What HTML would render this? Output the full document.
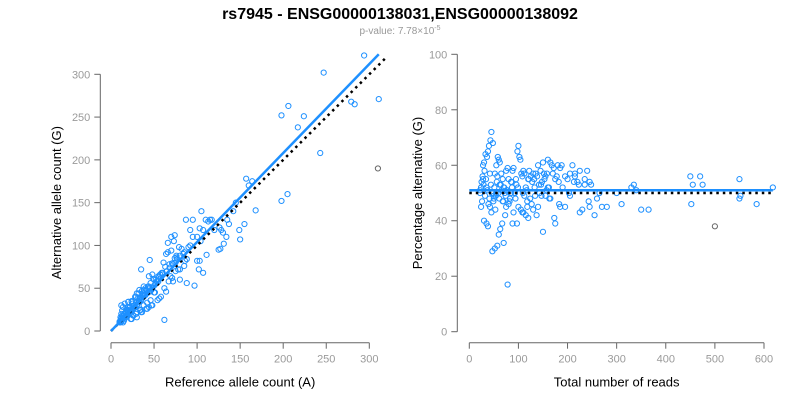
<!DOCTYPE html>
<html><head><meta charset="utf-8"><style>
html,body{margin:0;padding:0;background:#fff;width:800px;height:400px;overflow:hidden}
svg{display:block;font-family:"Liberation Sans",Arial,sans-serif}
</style></head><body>
<svg id="c" width="800" height="400">
<text x="400" y="19" text-anchor="middle" font-size="16" font-weight="bold" fill="#000">rs7945 - ENSG00000138031,ENSG00000138092</text>
<text x="400" y="34" text-anchor="middle" font-size="10" fill="#999">p-value: 7.78×10<tspan dy="-4" font-size="7">-5</tspan></text>
<g id="left"></g>
<g id="right"></g>
</svg>
<script>
// Left panel data: reference count (A) vs alternative count (G)
const refCounts = [294,247,198,206,224,217,243,311,310,279,283,198,205,157,160,164,168,155,149,150,142,135,137,134,131,127,128,126,130,115,117,105,95,87,103,107,110,100,104,111,103,107,102,100,97,88,80,62,45,35,70,74,66,73,
 90,85,92,80,77,75,72,68,65,60,58,55,52,50,48,47,45,42,40,38,36,35,33,31,30,28,27,26,25,24,23,22,21,20,19,18,17,16,15,14,13,12,12,11,10,
 95,88,82,78,76,71,69,64,61,57,53,49,46,43,41,39,37,34,32,29,27,25,22,20,18,16,14,13,11,10,
 84,79,74,70,66,63,59,56,51,44,38,33,29,24,21,19,17,15,13,12,120,125,145,113,92,86,
 12,14,16,18,20,22,24,26,28,30,32,34,36,38,40,42,44,46,48,50,12,15,18,21,24,27,30,33,36,39,42,45,48,52,56,60,64,68,72,76,
 13,17,19,23,25,29,31,35,37,41,43,47,55,58,62,67,71,75,80,85,11,14,20,26,30,34,38,44,50,54];
const altCounts = [322,302,252,263,251,238,208,271,190,268,265,152,160,178,170,175,141,125,118,107,140,130,125,110,102,96,118,121,115,130,130,140,130,130,120,118,130,110,105,89,82,68,72,82,53,56,60,13,83,72,110,112,103,105,
 98,92,100,88,84,80,78,74,70,66,62,58,55,53,50,48,46,44,42,40,38,36,34,32,30,28,27,26,25,24,23,22,21,20,19,18,17,16,15,14,13,12,11,10,10,
 110,84,96,72,88,79,64,90,80,66,58,61,56,50,48,42,44,39,35,33,30,26,28,24,21,19,17,14,12,11,
 90,98,85,94,92,75,68,63,45,64,52,48,40,34,27,25,22,20,18,15,118,95,150,128,118,82,
 30,28,32,25,34,20,35,18,40,22,44,25,47,30,50,33,52,36,66,45,20,12,16,24,14,30,16,38,22,44,26,50,30,60,38,68,46,78,58,86,
 24,22,28,14,32,20,38,22,42,26,52,30,64,40,50,58,62,70,72,76,16,10,34,18,44,24,48,28,60,36];
const leftGray = [8]; // indices drawn in gray
const leftTicksX = [0,50,100,150,200,250,300];
const leftTicksY = [0,50,100,150,200,250,300];
const leftFit = {slope:1.04};

// Right panel data: total reads vs percentage alternative
const totalReads = [45,43,48,40,38,36,33,30,28,27,25,24,22,30,42,45,50,52,55,58,60,62,65,68,70,72,75,78,80,82,85,88,90,92,95,98,100,102,104,106,108,110,112,115,118,120,122,125,128,130,132,135,138,140,142,145,148,150,152,155,158,160,162,165,168,170,172,175,178,180,182,185,188,190,195,200,205,210,215,220,225,230,235,240,245,248,255,260,265,270,280,300,310,330,335,340,350,365,450,455,470,475,452,500,550,552,550,585,618,
 35,38,50,55,60,70,75,78,80,85,90,100,105,110,115,120,130,140,150,155,160,165,175,185,195,205,215,225,235,245,
 47,52,57,63,67,73,88,97,108,118,127,137,147,153,163,173,183,203,213,223,243,
 22,26,29,32,34,37,41,44,46,49,51,54,56,59,61,64,66,69,71,74,77,83,87,93,96,112,117,124,133,143,
 24,28,31,35,39,42,47,53,57,62,68,76,86,94,99,109,121,134,146,157];
const pctAlt = [72,69,68,67,65,63,64,61,60,56,54,52,50,40,45,43,48,57,60,63,62,61,57,55,52,50,58,59,55,47,54,58,59,50,55,65,67,63,62,57,56,58,57,52,47,55,58,56,54,57,55,57,56,60,53,58,54,61,57,56,57,62,52,61,60,57,59,55,56,60,54,59,60,52,56,55,57,60,57,54,58,44,55,58,54,53,42,48,50,45,45,50,46,52,53,51,44,44,56,53,56,53,46,38,55,49,48,46,52,
 39,38,49,50,35,32,45,17,46,50,43,45,44,43,42,41,44,45,36,49,52,48,39,45,45,49,56,43,53,45,
 29,30,31,37,39,42,39,39,43,45,46,42,49,55,48,41,46,50,54,53,47,
 51,47,53,49,55,51,48,53,50,47,52,49,54,50,48,53,51,47,52,49,51,48,52,50,53,49,51,48,52,50,
 45,55,58,52,46,57,50,44,56,53,47,51,54,48,52,50,55,49,53,51];
const rightGray = [103];
const rightTicksX = [0,100,200,300,400,500,600];
const rightTicksY = [0,20,40,60,80,100];
const rightFitLevel = 51;
const rightNullLevel = 50;

const NS="http://www.w3.org/2000/svg";
function mk(parent,tag,attrs){const e=document.createElementNS(NS,tag);for(const k in attrs)e.setAttribute(k,attrs[k]);parent.appendChild(e);return e;}
const BLUE="#1E90FF", AX="#666", TK="#9a9a9a";

function axes(g, sx, sy, tx, ty, xAxisY, yAxisX, xlab, ylab, ylabX){
  const xa=mk(g,'line',{x1:sx(tx[0]),x2:sx(tx[tx.length-1]),y1:xAxisY,y2:xAxisY,stroke:AX});
  
  
  tx.forEach(v=>{
    mk(g,'line',{x1:sx(v),x2:sx(v),y1:xAxisY,y2:xAxisY+6,stroke:AX});
    const t=mk(g,'text',{x:sx(v),y:xAxisY+20,'text-anchor':'middle','font-size':11,fill:TK});
    t.textContent=v;
    
    
  });
  const ya=mk(g,'line',{x1:yAxisX,x2:yAxisX,y1:sy(ty[0]),y2:sy(ty[ty.length-1]),stroke:AX});
  
  
  ty.forEach(v=>{
    mk(g,'line',{x1:yAxisX-6,x2:yAxisX,y1:sy(v),y2:sy(v),stroke:AX});
    const t=mk(g,'text',{x:yAxisX-10,y:sy(v)+4,'text-anchor':'end','font-size':11,fill:TK});
    t.textContent=v;
    
    
  });
  const xl=mk(g,'text',{x:(sx(tx[0])+sx(tx[tx.length-1]))/2,y:xAxisY+44,'text-anchor':'middle','font-size':13,fill:'#000'});
  xl.textContent=xlab;
  
  
  const cy=(sy(ty[0])+sy(ty[ty.length-1]))/2;
  const yl=mk(g,'text',{x:ylabX,y:cy,'text-anchor':'middle','font-size':13,fill:'#000',transform:`rotate(-90 ${ylabX} ${cy})`});
  yl.textContent=ylab;
  
  
}

(function(){
  const g=document.getElementById('left');
  const sx=v=>111+v*(369.3-111)/300;
  const sy=v=>331-v*(331-74.3)/300;
  axes(g,sx,sy,leftTicksX,leftTicksY,342.7,100.3,'Reference allele count (A)','Alternative allele count (G)',61);
  refCounts.forEach((r,i)=>{
    const c=mk(g,'circle',{cx:sx(r),cy:sy(altCounts[i]),r:2.6,fill:'none',stroke:leftGray.includes(i)?'#666':BLUE,'stroke-width':1});
    
    
  });
  const maxR=Math.max(...refCounts);
  const nl=mk(g,'line',{x1:sx(0),y1:sy(0),x2:sx(320),y2:sy(320),stroke:'#000','stroke-width':2.5,'stroke-dasharray':'2.5 4'});
  
  
  const fl=mk(g,'line',{x1:sx(0),y1:sy(0),x2:sx(maxR),y2:sy(maxR*leftFit.slope),stroke:BLUE,'stroke-width':2.5});
  
  
})();

(function(){
  const g=document.getElementById('right');
  const sx=v=>469.3+v*(764-469.3)/600;
  const sy=v=>331.7-v*(331.7-54.3)/100;
  axes(g,sx,sy,rightTicksX,rightTicksY,342.7,457.3,'Total number of reads','Percentage alternative (G)',422);
  totalReads.forEach((t,i)=>{
    const c=mk(g,'circle',{cx:sx(t),cy:sy(pctAlt[i]),r:2.6,fill:'none',stroke:rightGray.includes(i)?'#666':BLUE,'stroke-width':1});
    
    
  });
  const maxT=Math.max(...totalReads);
  const nl=mk(g,'line',{x1:sx(0),y1:sy(rightNullLevel),x2:sx(maxT),y2:sy(rightNullLevel),stroke:'#000','stroke-width':2.5,'stroke-dasharray':'2.5 4'});
  
  
  const fl=mk(g,'line',{x1:sx(0),y1:sy(rightFitLevel),x2:sx(maxT),y2:sy(rightFitLevel),stroke:BLUE,'stroke-width':2.5});
  
  
})();
</script>
</body></html>
